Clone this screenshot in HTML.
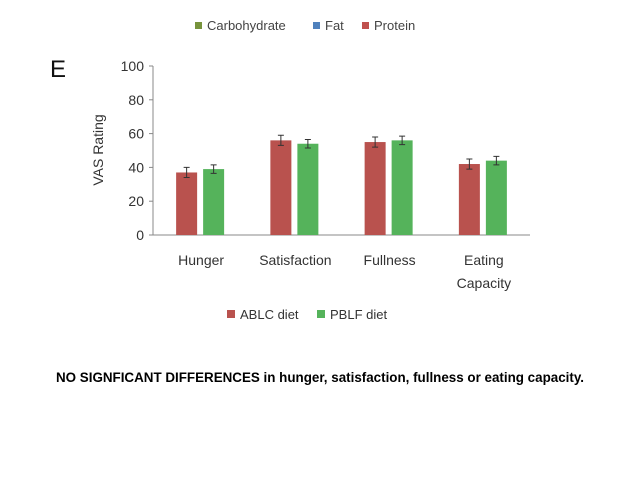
<!DOCTYPE html>
<html><head><meta charset="utf-8"><style>
body{margin:0;width:640px;height:480px;background:#fff;overflow:hidden}
svg{display:block}
text{font-family:"Liberation Sans",sans-serif}
</style></head><body>
<svg id="chart" width="640" height="480">
<g font-size="13" fill="#444">
<rect x="195" y="22" width="7" height="7" fill="#77933c"/>
<text x="207" y="30">Carbohydrate</text>
<rect x="313" y="22" width="7" height="7" fill="#4f81bd"/>
<text x="325" y="30">Fat</text>
<rect x="362" y="22" width="7" height="7" fill="#c0504d"/>
<text x="374" y="30">Protein</text>
</g>
<text x="50" y="77" font-size="24" fill="#111">E</text>
<text transform="translate(103,150) rotate(-90)" text-anchor="middle" font-size="14" fill="#333">VAS Rating</text>
<g id="plot"></g>
<g font-size="13" fill="#333">
<rect x="227" y="310" width="8" height="8" fill="#b9524e"/>
<text x="240" y="319">ABLC diet</text>
<rect x="317" y="310" width="8" height="8" fill="#55b35b"/>
<text x="330" y="319">PBLF diet</text>
</g>
<text x="320" y="382" text-anchor="middle" font-size="13.4" font-weight="bold" fill="#000">NO SIGNFICANT DIFFERENCES in hunger, satisfaction, fullness or eating capacity.</text>
</svg>
<script>
const categories=[["Hunger"],["Satisfaction"],["Fullness"],["Eating","Capacity"]];
const ablcValues=[37,56,55,42];
const pblfValues=[39,54,56,44];
const ablcErrors=[3,3,3,3];
const pblfErrors=[2.5,2.5,2.5,2.5];
const yTicks=[0,20,40,60,80,100];
const NS="http://www.w3.org/2000/svg";
const g=document.getElementById('plot');
const x0=153,x1=530,yB=235,yT=66;
const y=v=>yB-(v/100)*(yB-yT);
const band=(x1-x0)/categories.length;
const cx=i=>x0+band*(i+0.5);
function mk(t,a){const e=document.createElementNS(NS,t);for(const k in a)e.setAttribute(k,a[k]);g.appendChild(e);return e;}
let e=mk('line',{x1:x0,y1:yT,x2:x0,y2:yB,stroke:'#888'});


e=mk('line',{x1:x0-4,y1:yB,x2:x1,y2:yB,stroke:'#888'});


yTicks.forEach(t=>{
 let l=mk('line',{x1:x0-4,y1:y(t),x2:x0,y2:y(t),stroke:'#888'});
 
 
 let tx=mk('text',{x:x0-9,y:y(t)+5,'text-anchor':'end','font-size':'14',fill:'#333'});
 tx.textContent=t;
 
 
});
const bw=21;
function bar(v,err,xs,col,name){
 let r=mk('rect',{x:xs,y:y(v),width:bw,height:yB-y(v),fill:col});
 
 
 const m=xs+bw/2;
 let eb=mk('path',{d:`M${m} ${y(v+err)}V${y(v-err)}M${m-3} ${y(v+err)}H${m+3}M${m-3} ${y(v-err)}H${m+3}`,stroke:'#333',fill:'none','stroke-width':1});
 
 
}
categories.forEach((c,i)=>{
 bar(ablcValues[i],ablcErrors[i],cx(i)-bw-3,'#b9524e','bar-ablc-'+i);
 bar(pblfValues[i],pblfErrors[i],cx(i)+3,'#55b35b','bar-pblf-'+i);
 c.forEach((s,j)=>{
  let t=mk('text',{x:cx(i)+1,y:265+j*23,'text-anchor':'middle','font-size':'14',fill:'#333'});
  t.textContent=s;
  
  
 });
});
</script>
</body></html>
